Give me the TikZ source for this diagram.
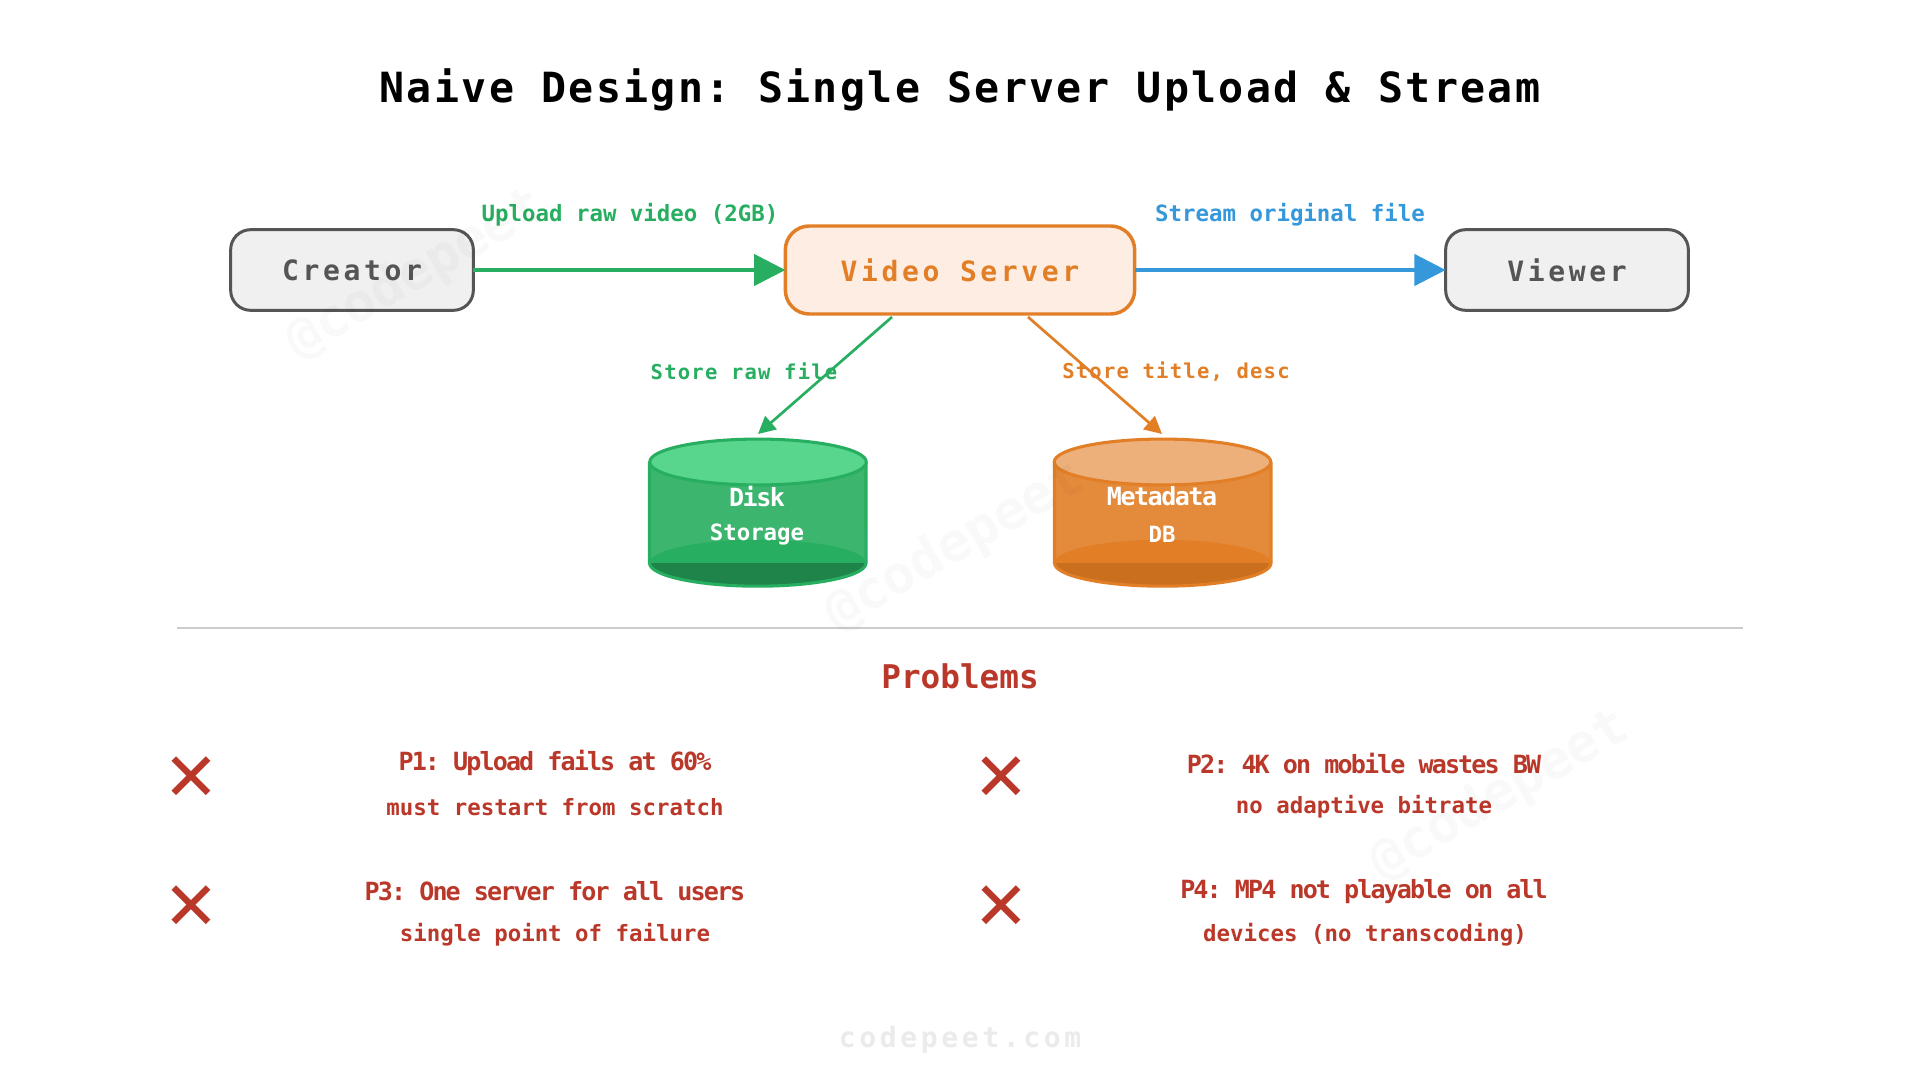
\documentclass[tikz,border=0pt]{standalone}
\usepackage{fontspec}
\usetikzlibrary{arrows.meta}
\setmainfont{DejaVu Sans Mono}
\frenchspacing
\newfontfamily\widemono[LetterSpace=13,BoldFont={DejaVu Sans Mono Bold}]{DejaVu Sans Mono}
\newfontfamily\titlemono[LetterSpace=5.6,BoldFont={DejaVu Sans Mono Bold}]{DejaVu Sans Mono}
\newfontfamily\slimmono[LetterSpace=-6,BoldFont={DejaVu Sans Mono Bold}]{DejaVu Sans Mono}
\newfontfamily\probmono[LetterSpace=-7.6,BoldFont={DejaVu Sans Mono Bold}]{DejaVu Sans Mono}
\newfontfamily\edgemono[LetterSpace=6,BoldFont={DejaVu Sans Mono Bold}]{DejaVu Sans Mono}
\newfontfamily\marksans{DejaVu Sans}
\definecolor{actorline}{HTML}{555555}
\definecolor{actorfill}{HTML}{F0F0F0}
\definecolor{serverline}{HTML}{E27E26}
\definecolor{serverfill}{HTML}{FDEDE2}
\definecolor{upgreen}{HTML}{27AE60}
\definecolor{upblue}{HTML}{3498DB}
\definecolor{badred}{HTML}{BA382A}
\definecolor{greentop}{HTML}{58D68D}
\definecolor{greenbase}{HTML}{1E8449}
\definecolor{orangetop}{HTML}{EDB07A}
\definecolor{orangebase}{HTML}{CA6F1E}
\tikzset{
	actor/.style={draw=actorline, fill=actorfill, line width=2.25pt, rounded corners=15pt, minimum width=182pt, minimum height=60.5pt, outer sep=0pt, text=actorline, font=\widemono\fontsize{21}{25}\selectfont\bfseries},
	server/.style={draw=serverline, fill=serverfill, line width=2.6pt, rounded corners=18pt, minimum width=262pt, minimum height=66pt, outer sep=0pt, text=serverline, font=\widemono\fontsize{21}{25}\selectfont\bfseries},
	thickflow/.style={line width=2.8pt, -{Triangle[length=23.5pt, width=23.5pt]}},
	thinflow/.style={line width=2pt, -{Triangle[length=13pt, width=13pt]}},
	edgelabel/.style={inner sep=0pt, font=\fontsize{16.8}{20}\selectfont\bfseries},
	storelabel/.style={inner sep=0pt, font=\edgemono\fontsize{15.4}{18}\selectfont\bfseries},
	dbtitle/.style={inner sep=0pt, text=white, font=\slimmono\fontsize{18.8}{22}\selectfont\bfseries},
	dbsub/.style={inner sep=0pt, text=white, font=\fontsize{16.8}{20}\selectfont\bfseries},
	probtitle/.style={inner sep=0pt, text=badred, font=\probmono\fontsize{18.8}{22}\selectfont\bfseries},
	probsub/.style={inner sep=0pt, text=badred, font=\fontsize{16.8}{20}\selectfont\bfseries},
	crossmark/.style={inner sep=0pt, text=badred, font=\marksans\fontsize{50}{50}\selectfont\bfseries},
	watermark/.style={inner sep=0pt, rotate=30, text=black, opacity=0.025, font=\fontsize{40}{44}\selectfont\bfseries},
}
\begin{document}
\begin{tikzpicture}
	\def \hor{ 0.75pt };
	\def \ver{ 0.75pt };
	\useasboundingbox[fill=white] (0*\hor,0*\ver) rectangle (1920*\hor,-1080*\ver);
	\node[inner sep=0pt, font=\titlemono\fontsize{31.2}{36}\selectfont\bfseries] (title) at (960*\hor,-89.5*\ver) {Naive Design: Single Server Upload \& Stream};
	\node[actor] (creator) at (352*\hor,-270*\ver) {Creator};
	\node[server] (videoserver) at (960*\hor,-270*\ver) {Video Server};
	\node[actor] (viewer) at (1567*\hor,-270*\ver) {Viewer};
	\node[edgelabel, text=upgreen] (uploadlabel) at (630*\hor,-214.5*\ver) {Upload raw video (2GB)};
	\node[edgelabel, text=upblue] (streamlabel) at (1290*\hor,-214.5*\ver) {Stream original file};
	\node[storelabel, text=upgreen] (rawlabel) at (744*\hor,-371.5*\ver) {Store raw file};
	\node[storelabel, text=serverline] (metalabel) at (1176*\hor,-372*\ver) {Store title, desc};
	\coordinate (rawstart) at (892*\hor,-317*\ver);
	\coordinate (rawend) at (758*\hor,-434*\ver);
	\coordinate (metastart) at (1028*\hor,-317*\ver);
	\coordinate (metaend) at (1162*\hor,-434*\ver);
	\draw[thickflow, upgreen] (creator.east) -- (videoserver.west);
	\draw[thickflow, upblue] (videoserver.east) -- (viewer.west);
	\draw[thinflow, upgreen] (rawstart) -- (rawend);
	\draw[thinflow, serverline] (metastart) -- (metaend);
	\fill[upgreen, opacity=0.9] (649.5*\hor,-462*\ver) rectangle (866*\hor,-563*\ver);
	\fill[upgreen] (758*\hor,-563*\ver) ellipse (81.2pt and 17.4pt);
	\begin{scope}
		\clip (640*\hor,-563*\ver) rectangle (880*\hor,-600*\ver);
		\fill[greenbase] (758*\hor,-563*\ver) ellipse (81.2pt and 17.4pt);
	\end{scope}
	\draw[upgreen, line width=2.3pt] (649.5*\hor,-462*\ver) -- (649.5*\hor,-563*\ver) arc (180:360:81.2pt and 17.4pt) -- (866*\hor,-462*\ver);
	\draw[upgreen, fill=greentop, line width=2.3pt] (758*\hor,-462*\ver) ellipse (81.2pt and 17.2pt);
	\fill[serverline, opacity=0.9] (1054.5*\hor,-462*\ver) rectangle (1271*\hor,-563*\ver);
	\fill[serverline] (1162.5*\hor,-563*\ver) ellipse (81.2pt and 17.4pt);
	\begin{scope}
		\clip (1040*\hor,-563*\ver) rectangle (1285*\hor,-600*\ver);
		\fill[orangebase] (1162.5*\hor,-563*\ver) ellipse (81.2pt and 17.4pt);
	\end{scope}
	\draw[serverline, line width=2.3pt] (1054.5*\hor,-462*\ver) -- (1054.5*\hor,-563*\ver) arc (180:360:81.2pt and 17.4pt) -- (1271*\hor,-462*\ver);
	\draw[serverline, fill=orangetop, line width=2.3pt] (1162.5*\hor,-462*\ver) ellipse (81.2pt and 17.2pt);
	\node[dbtitle] (disk) at (757*\hor,-496*\ver) {Disk};
	\node[dbsub] (storage) at (757*\hor,-534.5*\ver) {Storage};
	\node[dbtitle] (metadata) at (1162*\hor,-496*\ver) {Metadata};
	\node[dbsub] (dbname) at (1162*\hor,-534*\ver) {DB};
	\coordinate (ruleleft) at (177*\hor,-628*\ver);
	\coordinate (ruleright) at (1743*\hor,-628*\ver);
	\draw[draw=black!20, line width=1.2pt] (ruleleft) -- (ruleright);
	\node[inner sep=0pt, text=badred, font=\fontsize{24.5}{28}\selectfont\bfseries] (problems) at (960*\hor,-676*\ver) {Problems};
	\node[crossmark] (crossa) at (191.5*\hor,-779*\ver) {✕};
	\node[crossmark] (crossb) at (1001*\hor,-779*\ver) {✕};
	\node[crossmark] (crossc) at (191.5*\hor,-908*\ver) {✕};
	\node[crossmark] (crossd) at (1001*\hor,-908*\ver) {✕};
	\node[probtitle] (ponetitle) at (555*\hor,-763*\ver) {P1: Upload fails at 60\%};
	\node[probsub] (ponesub) at (555*\hor,-807*\ver) {must restart from scratch};
	\node[probtitle] (ptwotitle) at (1364*\hor,-763*\ver) {P2: 4K on mobile wastes BW};
	\node[probsub] (ptwosub) at (1364*\hor,-807*\ver) {no adaptive bitrate};
	\node[probtitle] (pthreetitle) at (555*\hor,-891*\ver) {P3: One server for all users};
	\node[probsub] (pthreesub) at (555*\hor,-935*\ver) {single point of failure};
	\node[probtitle] (pfourtitle) at (1364*\hor,-892*\ver) {P4: MP4 not playable on all};
	\node[probsub] (pfoursub) at (1365*\hor,-935*\ver) {devices (no transcoding)};
	\node[inner sep=0pt, text=black!8, font=\widemono\fontsize{21}{25}\selectfont\bfseries] (footer) at (960*\hor,-1039.5*\ver) {codepeet.com};
	\node[watermark] (marka) at (416*\hor,-275*\ver) {@codepeet};
	\node[watermark] (markb) at (955*\hor,-547*\ver) {@codepeet};
	\node[watermark] (markc) at (1500*\hor,-796*\ver) {@codepeet};
\end{tikzpicture}
\end{document}
